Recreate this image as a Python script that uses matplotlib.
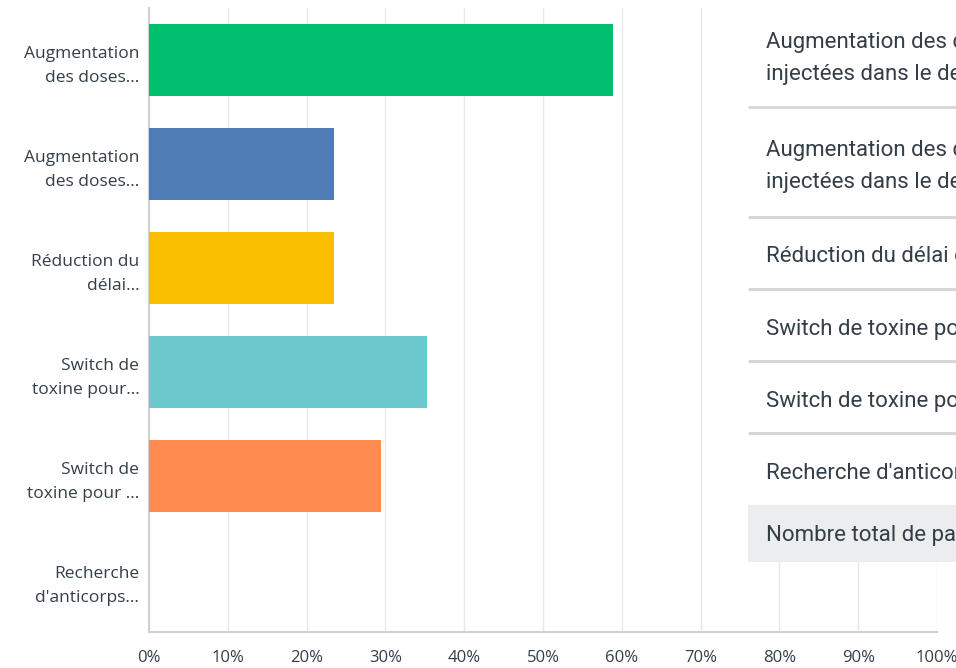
import matplotlib
matplotlib.use("Agg")
import matplotlib.pyplot as plt
from matplotlib.patches import Rectangle

# data: share of respondents (17 answers)
categories = ["Augmentation\ndes doses...", "Augmentation\ndes doses...",
              "Réduction du\ndélai...", "Switch de\ntoxine pour...",
              "Switch de\ntoxine pour ...", "Recherche\nd'anticorps..."]
values = [58.82, 23.53, 23.53, 35.29, 29.41, 0.0]
colors = ["#00bf6f", "#507cb6", "#f9be00", "#6bc8cd", "#ff8b4f", "#7f7fd5"]
xticks = [0, 10, 20, 30, 40, 50, 60, 70, 80, 90, 100]

table_rows = ["Augmentation des doses\ninjectées dans le dernier",
              "Augmentation des doses\ninjectées dans le dernier",
              "Réduction du délai entre",
              "Switch de toxine pour",
              "Switch de toxine pour",
              "Recherche d'anticorps"]
total_label = "Nombre total de participants"

W, H = 956, 668
fig = plt.figure(figsize=(W / 100, H / 100), dpi=100)
ax = fig.add_axes([149 / W, 1 - 632 / H, (937 - 149) / W, (632 - 8) / H])

ypos = list(range(len(categories)))
ax.barh(ypos, values, height=0.685, color=colors, zorder=3)
ax.set_xlim(0, 100)
ax.set_ylim(len(categories) - 0.5, -0.5)

ax.set_xticks(xticks)
ax.set_xticklabels([f"{t}%" for t in xticks], fontsize=12, color="#333e48",
                   family="Open Sans")
ax.set_yticks(ypos)
ax.set_yticklabels(categories, fontsize=12.5, color="#333e48", family="Open Sans",
                   linespacing=1.65)
ax.tick_params(length=0)
ax.tick_params(axis="x", pad=13)
ax.tick_params(axis="y", pad=7)
ax.grid(axis="x", color="#e8e8e8", lw=1, zorder=0)
for s in ["top", "right"]:
    ax.spines[s].set_visible(False)
ax.spines["left"].set_color("#d0d0d0")
ax.spines["bottom"].set_color("#d0d0d0")
ax.spines["left"].set_linewidth(1.5)
ax.spines["bottom"].set_linewidth(1.5)

# table overlay on the right, in pixel coords
tx = fig.add_axes([748 / W, 1 - 562 / H, (W - 748) / W, 562 / H])
tx.set_xlim(0, W - 748)
tx.set_ylim(562, 0)
tx.axis("off")
tx.add_patch(Rectangle((0, 0), W - 748, 562, color="white", zorder=0))
tfont = ["Liberation Sans Narrow", "Roboto", "DejaVu Sans"]
row_mid = [58.5, 166.5, 257, 330, 402, 474]
seps = [107, 217, 289, 361, 433]
for lab, ym in zip(table_rows, row_mid):
    tx.text(18, ym, lab, fontsize=16, color="#333e48", va="center",
            family=tfont, linespacing=1.7, clip_on=True)
for ys in seps:
    tx.plot([0, W - 748], [ys, ys], color="#d5d5d5", lw=2, solid_capstyle="butt")
tx.add_patch(Rectangle((0, 505), W - 748, 57, color="#ebedee", zorder=1))
tx.text(18, 535, total_label, fontsize=16, color="#333e48", va="center",
        family=tfont, zorder=2, clip_on=True)

fig.savefig("out.png", dpi=100)
